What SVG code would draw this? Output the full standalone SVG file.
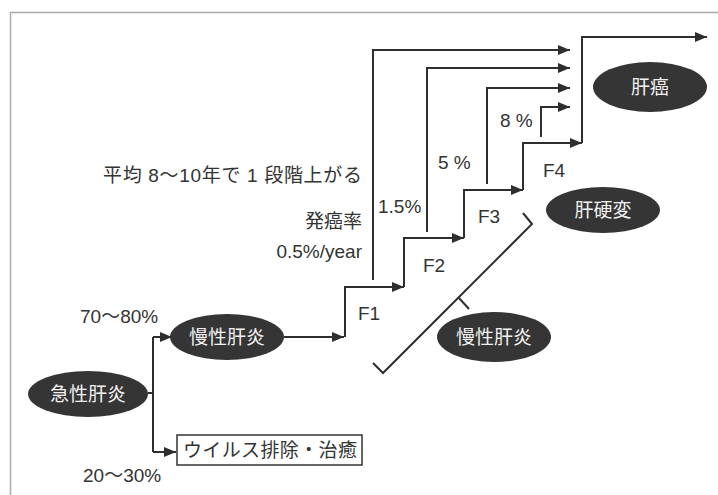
<svg xmlns="http://www.w3.org/2000/svg" width="718" height="495" viewBox="0 0 718 495">
<defs>
<marker id="ah" viewBox="0 0 12 10" refX="12" refY="5" markerWidth="12" markerHeight="10" markerUnits="userSpaceOnUse" orient="auto">
<path d="M0,0 L12,5 L0,10 Z" fill="#2e2e2e"/>
</marker>
<style>
.t{font-family:"Liberation Sans","Noto Sans CJK JP",sans-serif;fill:#333;font-size:19px}
.w{font-family:"Noto Sans CJK JP","Liberation Sans",sans-serif;fill:#f2f2f2;font-size:19px;text-anchor:middle}
.e{fill:#353535}
.c{fill:none;stroke:#2e2e2e;stroke-width:2}
.a{marker-end:url(#ah)}
</style>
</defs>
<rect width="718" height="495" fill="#fff"/>
<path d="M10.5,495 V12.5 H718" fill="none" stroke="#aaa" stroke-width="1.5"/>

<g id="connectors">
<path class="c" d="M148,393 H153"/>
<path class="c" d="M153,337 V452"/>
<path class="c a" d="M153,337 H172"/>
<path class="c a" d="M153,452 H176"/>
<path class="c a" d="M284,337 H344"/>
<path class="c a" d="M345,337 V287 H404"/>
<path class="c a" d="M404,287 V238 H464"/>
<path class="c a" d="M464,238 V190 H523"/>
<path class="c a" d="M523,190 V143 H582"/>
<path class="c a" d="M582,143 V37 H707"/>
<path class="c a" d="M373,280 V50 H570"/>
<path class="c a" d="M427,232 V68 H570"/>
<path class="c a" d="M487,184 V88 H570"/>
<path class="c a" d="M541,137 V107 H570"/>
<path class="c" d="M523,213 L532,224 L383,373 L373,363"/>
<path class="c" d="M459,298 L469,309"/>
</g>

<g id="acute">
<ellipse class="e" cx="88" cy="394" rx="60" ry="23"/>
<text class="w" x="88" y="401">急性肝炎</text>
</g>
<g id="chronic1">
<ellipse class="e" cx="227" cy="337" rx="57" ry="23"/>
<text class="w" x="227" y="344">慢性肝炎</text>
</g>
<g id="cure">
<rect x="177" y="435" width="185" height="30" fill="#fff" stroke="#333" stroke-width="1.5"/>
<text class="t" x="183" y="457" textLength="174" lengthAdjust="spacing">ウイルス排除・治癒</text>
</g>
<g id="chronic2">
<ellipse class="e" cx="494" cy="337" rx="57" ry="25"/>
<text class="w" x="494" y="344">慢性肝炎</text>
</g>
<g id="cirrhosis">
<ellipse class="e" cx="603" cy="210" rx="57" ry="23"/>
<text class="w" x="603" y="217">肝硬変</text>
</g>
<g id="cancer">
<ellipse class="e" cx="650" cy="87" rx="57" ry="25"/>
<text class="w" x="650" y="94">肝癌</text>
</g>

<g id="labels">
<text class="t" x="80" y="323">70〜80%</text>
<text class="t" x="83" y="482">20〜30%</text>
<text class="t" x="103" y="182" textLength="259" lengthAdjust="spacing">平均 8〜10年で 1 段階上がる</text>
<text class="t" x="362" y="228" text-anchor="end">発癌率</text>
<text class="t" x="362" y="258" text-anchor="end">0.5%/year</text>
<text class="t" x="378" y="213">1.5%</text>
<text class="t" x="438" y="169">5 %</text>
<text class="t" x="500" y="127">8 %</text>
<text class="t" x="358" y="320">F1</text>
<text class="t" x="423" y="272">F2</text>
<text class="t" x="478" y="223">F3</text>
<text class="t" x="543" y="177">F4</text>
</g>
</svg>
